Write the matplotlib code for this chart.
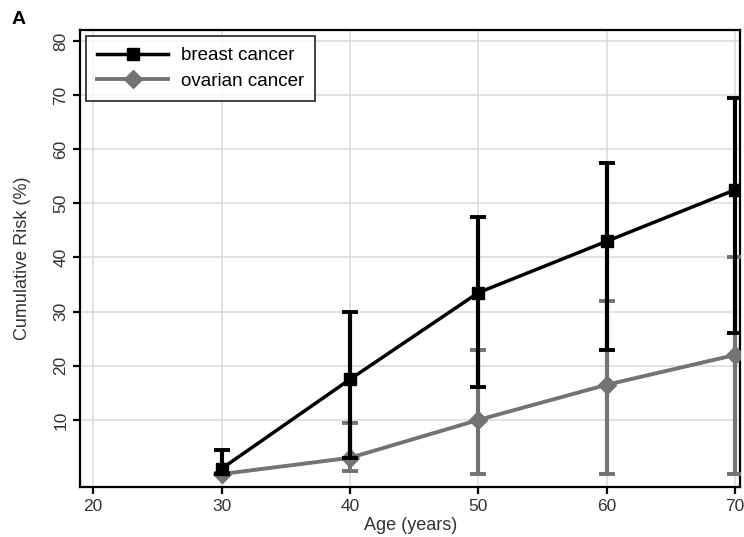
import matplotlib.pyplot as plt
from matplotlib.lines import Line2D
import numpy as np

plt.rcParams['font.family'] = ['Liberation Sans', 'DejaVu Sans']

ages = [30, 40, 50, 60, 70]
breast = [1.0, 17.5, 33.5, 43.0, 52.5]
breast_low = [0.0, 3.0, 16.0, 23.0, 26.0]
breast_high = [4.5, 30.0, 47.5, 57.5, 69.5]
ovarian = [0.0, 3.0, 10.0, 16.5, 22.0]
ovarian_low = [0.0, 0.5, 0.0, 0.0, 0.0]
ovarian_high = [0.2, 9.5, 23.0, 32.0, 40.0]

b = np.array(breast)
o = np.array(ovarian)
b_err = [b - np.array(breast_low), np.array(breast_high) - b]
o_err = [o - np.array(ovarian_low), np.array(ovarian_high) - o]

grey = '#737373'

fig = plt.figure(figsize=(7.44, 5.37), dpi=100)
ax = fig.add_axes([0.108, 0.093, 0.887, 0.851])

ax.errorbar(ages, ovarian, yerr=o_err, color=grey, lw=2.8, elinewidth=3,
            capsize=5.5, capthick=2.8, marker='D', markersize=9, zorder=3)
ax.errorbar(ages, breast, yerr=b_err, color='black', lw=2.5, elinewidth=3,
            capsize=5.5, capthick=2.8, marker='s', markersize=9, zorder=4)

ax.set_xlim(19, 70.4)
ax.set_ylim(-2.4, 82)
ax.set_xticks([20, 30, 40, 50, 60, 70])
ax.set_yticks([10, 20, 30, 40, 50, 60, 70, 80])
ax.tick_params(axis='both', labelsize=12.5, length=5, width=1.6, direction='out',
               colors='black', labelcolor='#333333')
for lab in ax.get_yticklabels():
    lab.set_rotation(90)
    lab.set_va('center')
ax.grid(True, color='#dddddd', lw=1.2)
ax.set_axisbelow(True)
for s in ax.spines.values():
    s.set_linewidth(1.6)

ax.set_xlabel('Age (years)', fontsize=13, color='#333333', labelpad=2)
ax.set_ylabel('Cumulative Risk (%)', fontsize=13, color='#333333', labelpad=16)

handles = [Line2D([], [], color='black', lw=2.5, marker='s', markersize=9),
           Line2D([], [], color=grey, lw=2.8, marker='D', markersize=9)]
leg = ax.legend(handles, ['breast cancer', 'ovarian cancer'], loc='upper left',
                fontsize=13.5, frameon=True, fancybox=False, edgecolor='black',
                borderaxespad=0.3, handlelength=3.8, borderpad=0.6,
                labelspacing=0.45, handletextpad=0.65)
leg.get_frame().set_linewidth(1.3)

fig.text(0.016, 0.955, 'A', fontsize=14, fontweight='bold')

fig.savefig('out.png', dpi=100)
